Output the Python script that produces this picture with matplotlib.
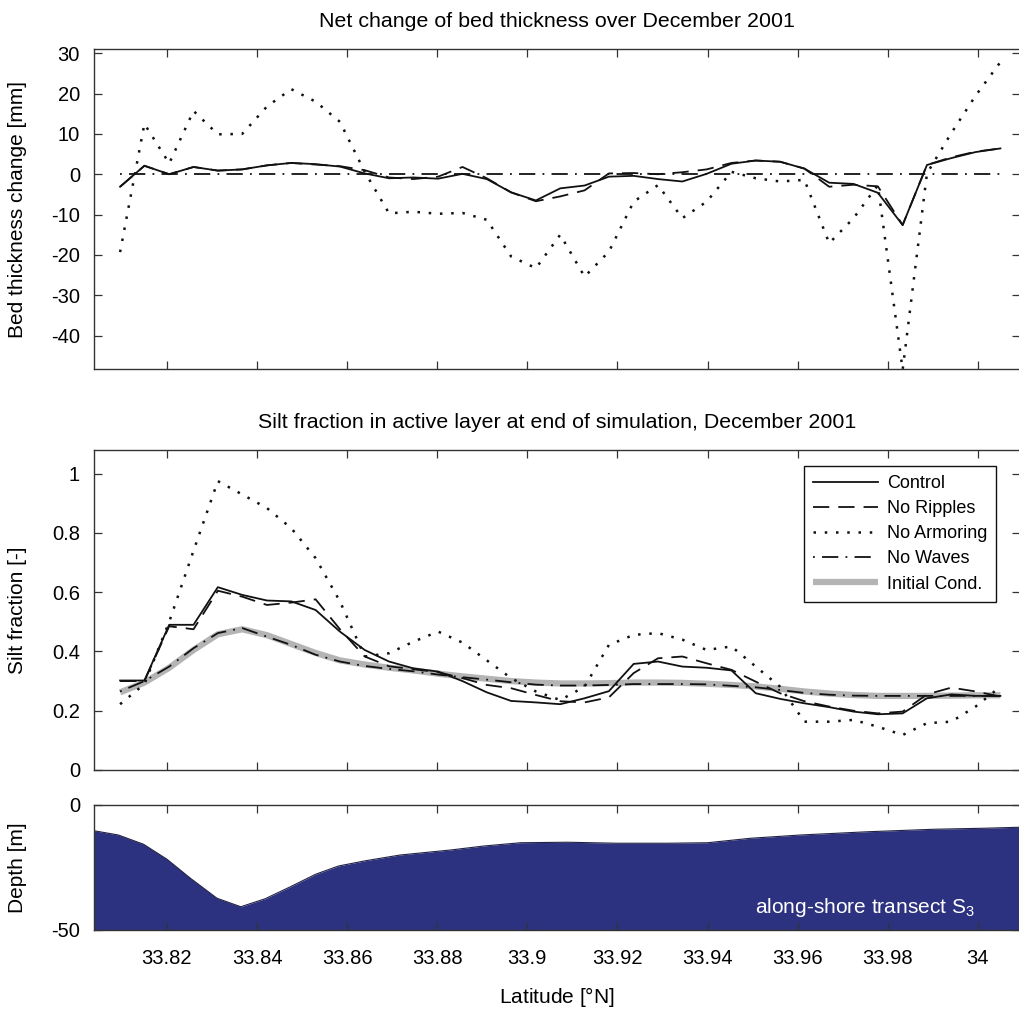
import matplotlib.pyplot as plt

plt.rcParams['font.family'] = ['Liberation Sans', 'DejaVu Sans']
plt.rcParams['font.size'] = 13
plt.rcParams['mathtext.default'] = 'regular'
plt.rcParams['axes.unicode_minus'] = False

# model grid along the transect
lat = [33.8096, 33.8150, 33.8205, 33.8259, 33.8313, 33.8367, 33.8422, 33.8476,
       33.8530, 33.8584, 33.8639, 33.8693, 33.8747, 33.8802, 33.8856, 33.8910,
       33.8964, 33.9019, 33.9073, 33.9127, 33.9181, 33.9236, 33.9290, 33.9344,
       33.9398, 33.9453, 33.9507, 33.9561, 33.9615, 33.9670, 33.9724, 33.9778,
       33.9833, 33.9887, 33.9941, 33.9995, 34.0050]

# bed thickness change [mm]
bed_control = [-3.1, 2.1, 0.0, 1.8, 0.9, 1.2, 2.2, 2.8, 2.5, 1.9, 0.2, -1.0, -0.8,
               -1.1, 0.1, -1.2, -4.5, -6.5, -3.5, -2.8, -0.6, -0.4, -1.2, -1.8, 0.1,
               2.6, 3.4, 3.1, 1.4, -2.1, -2.4, -4.6, -12.6, 2.3, 4.0, 5.5, 6.4]
bed_ripples = [-3.1, 2.1, 0.0, 1.8, 0.9, 1.2, 2.2, 2.8, 2.4, 2.0, 1.0, -0.8, -1.2,
               -0.6, 1.8, -1.0, -4.5, -6.7, -5.5, -4.0, 0.2, 0.3, 0.0, 0.5, 1.2,
               2.8, 3.4, 3.1, 1.4, -3.1, -2.6, -3.0, -12.6, 2.3, 4.2, 5.6, 6.4]
bed_armor = [-19.3, 12.5, 2.7, 15.7, 9.9, 10.0, 16.8, 21.1, 18.0, 13.0, 0.6, -9.7,
             -9.3, -9.8, -9.6, -11.3, -20.4, -23.3, -15.0, -25.4, -19.2, -6.8, -2.7,
             -10.9, -6.8, 0.6, -1.0, -1.8, -1.4, -17.1, -10.9, -2.7, -48.5, 0.2,
             10.2, 19.5, 27.8]
bed_waves = [0.0, 0.0, 0.0, 0.0, 0.0, 0.0, 0.0, 0.0, 0.0, 0.0, 0.0, 0.0, 0.0,
             0.0, 0.0, 0.0, 0.0, 0.0, 0.0, 0.0, 0.0, 0.0, 0.0, 0.0, 0.0, 0.0,
             0.0, 0.0, 0.0, 0.0, 0.0, 0.0, 0.0, 0.0, 0.0, 0.0, 0.0]

# silt fraction [-]
silt_control = [0.302, 0.302, 0.49, 0.49, 0.617, 0.591, 0.572, 0.569, 0.54, 0.467,
                0.405, 0.366, 0.343, 0.332, 0.30, 0.262, 0.233, 0.228, 0.222, 0.242,
                0.266, 0.358, 0.366, 0.349, 0.345, 0.336, 0.259, 0.24, 0.225, 0.212,
                0.197, 0.188, 0.191, 0.242, 0.255, 0.25, 0.25]
silt_ripples = [0.30, 0.30, 0.485, 0.475, 0.605, 0.585, 0.557, 0.565, 0.576, 0.475,
                0.383, 0.35, 0.34, 0.33, 0.31, 0.287, 0.276, 0.253, 0.232, 0.228,
                0.245, 0.327, 0.377, 0.383, 0.36, 0.338, 0.298, 0.259, 0.232, 0.214,
                0.2, 0.191, 0.197, 0.255, 0.278, 0.265, 0.248]
silt_armor = [0.222, 0.29, 0.50, 0.74, 0.975, 0.93, 0.884, 0.816, 0.715, 0.569,
              0.383, 0.394, 0.433, 0.467, 0.43, 0.37, 0.31, 0.265, 0.236, 0.281,
              0.422, 0.456, 0.462, 0.44, 0.405, 0.417, 0.349, 0.281, 0.163, 0.163,
              0.169, 0.146, 0.118, 0.158, 0.163, 0.214, 0.281]
silt_waves = [0.265, 0.30, 0.349, 0.411, 0.462, 0.479, 0.45, 0.422, 0.389, 0.366,
              0.351, 0.341, 0.333, 0.322, 0.313, 0.305, 0.296, 0.288, 0.285, 0.285,
              0.287, 0.29, 0.29, 0.29, 0.289, 0.284, 0.279, 0.27, 0.26, 0.254,
              0.251, 0.25, 0.25, 0.25, 0.25, 0.25, 0.25]
silt_init = [0.262, 0.295, 0.345, 0.405, 0.458, 0.475, 0.455, 0.425, 0.395, 0.37,
             0.356, 0.345, 0.336, 0.325, 0.316, 0.308, 0.3, 0.295, 0.292, 0.292,
             0.293, 0.295, 0.295, 0.294, 0.291, 0.287, 0.282, 0.274, 0.265, 0.258,
             0.253, 0.25, 0.25, 0.25, 0.251, 0.252, 0.252]

# bathymetry along the transect
depth_lat = [33.8038, 33.8092, 33.8148, 33.8200, 33.8252, 33.8311, 33.8364, 33.8418,
             33.8474, 33.8530, 33.8581, 33.8641, 33.8718, 33.8830, 33.8904, 33.8985,
             33.9089, 33.9200, 33.9311, 33.9400, 33.9496, 33.9607, 33.9756, 33.9904,
             34.0015, 34.0094]
depth = [-10.3, -12.0, -15.7, -21.7, -29.3, -37.3, -40.7, -37.5, -32.7, -27.7, -24.4,
         -22.3, -20.0, -18.0, -16.4, -15.1, -14.9, -15.3, -15.3, -15.1, -13.3, -12.0,
         -10.7, -9.7, -9.3, -8.9]

xticks = [33.82, 33.84, 33.86, 33.88, 33.9, 33.92, 33.94, 33.96, 33.98, 34.0]
xtick_labels = ['33.82', '33.84', '33.86', '33.88', '33.9', '33.92', '33.94',
                '33.96', '33.98', '34']

st_control = dict(color='#111111', lw=1.3, linestyle='-')
st_ripples = dict(color='#111111', lw=1.3, linestyle=(0, (9, 5)))
st_armor = dict(color='#111111', lw=1.8, linestyle=(0, (1, 3.5)))
st_waves = dict(color='#111111', lw=1.3, linestyle=(0, (1, 4, 9, 4)))
st_init = dict(color='#b4b4b4', lw=4.5, linestyle='-', solid_capstyle='butt')

spine_col = '#333333'
tick_fs = 14.5
label_fs = 15
title_fs = 15.4


def style(ax):
    ax.set_xlim(33.8038, 34.0094)
    ax.set_xticks(xticks)
    ax.tick_params(direction='in', top=True, right=True, length=6, width=0.9,
                   color=spine_col, pad=10, labelsize=tick_fs)
    ax.tick_params(axis='x', pad=14)
    for s in ax.spines.values():
        s.set_color(spine_col)
        s.set_linewidth(1.0)


fig = plt.figure(figsize=(10.19, 10.09), dpi=100)
ax1 = fig.add_axes([0.0922, 0.6343, 0.909, 0.3169])
ax2 = fig.add_axes([0.0922, 0.2369, 0.909, 0.3171])
ax3 = fig.add_axes([0.0922, 0.0783, 0.909, 0.1239])

# top: bed thickness change
ax1.plot(lat, bed_waves, **st_waves)
ax1.plot(lat, bed_armor, **st_armor)
ax1.plot(lat, bed_ripples, **st_ripples)
ax1.plot(lat, bed_control, **st_control)
style(ax1)
ax1.set_ylim(-48.3, 31)
ax1.set_yticks([-40, -30, -20, -10, 0, 10, 20, 30])
ax1.set_xticklabels([])
ax1.set_ylabel('Bed thickness change [mm]', fontsize=label_fs)
ax1.yaxis.set_label_coords(-0.072, 0.5)
ax1.set_title('Net change of bed thickness over December 2001', pad=16,
              fontsize=title_fs)

# middle: silt fraction
h5, = ax2.plot(lat, silt_init, label='Initial Cond.', **st_init)
h4, = ax2.plot(lat, silt_waves, label='No Waves', **st_waves)
h3, = ax2.plot(lat, silt_armor, label='No Armoring', **st_armor)
h2, = ax2.plot(lat, silt_ripples, label='No Ripples', **st_ripples)
h1, = ax2.plot(lat, silt_control, label='Control', **st_control)
style(ax2)
ax2.set_ylim(0, 1.08)
ax2.set_yticks([0, 0.2, 0.4, 0.6, 0.8, 1.0])
ax2.set_yticklabels(['0', '0.2', '0.4', '0.6', '0.8', '1'])
ax2.set_xticklabels([])
ax2.set_ylabel('Silt fraction [-]', fontsize=label_fs)
ax2.yaxis.set_label_coords(-0.072, 0.5)
ax2.set_title('Silt fraction in active layer at end of simulation, December 2001',
              pad=16, fontsize=title_fs)
leg = ax2.legend(handles=[h1, h2, h3, h4, h5], loc='upper right',
                 bbox_to_anchor=(0.974, 0.95), borderaxespad=0, fancybox=False,
                 framealpha=1, edgecolor='#111111', handlelength=3.6,
                 handletextpad=0.5, labelspacing=0.45, borderpad=0.5,
                 fontsize=13)
leg.get_frame().set_linewidth(1.0)

# bottom: depth
ax3.fill_between(depth_lat, depth, -50, color='#2c3280', lw=0)
ax3.plot(depth_lat, depth, color='#222244', lw=0.8)
style(ax3)
ax3.set_ylim(-50, 0)
ax3.set_yticks([-50, 0])
ax3.set_xticklabels(xtick_labels)
ax3.set_ylabel('Depth [m]', fontsize=label_fs)
ax3.yaxis.set_label_coords(-0.072, 0.5)
ax3.set_xlabel('Latitude [$\\degree$N]', fontsize=label_fs)
ax3.xaxis.set_label_coords(0.5, -0.44)
ax3.text(0.951, 0.18, 'along-shore transect S$_3$', color='white', ha='right',
         va='center', transform=ax3.transAxes, fontsize=15)

fig.savefig('out.png', dpi=100)
